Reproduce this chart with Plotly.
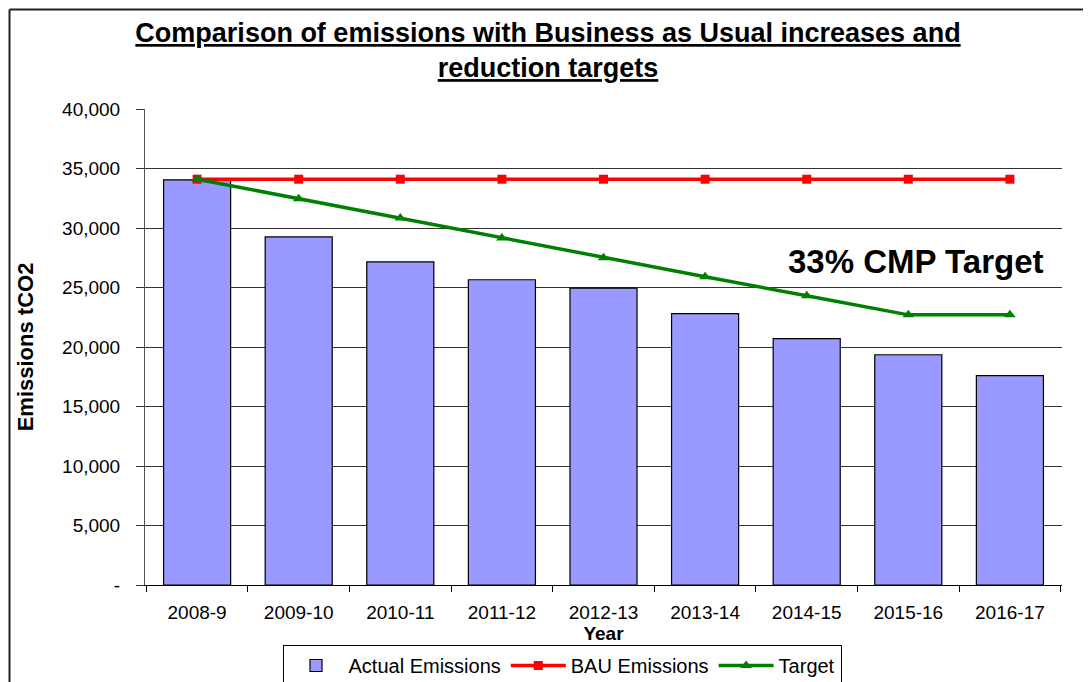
import plotly.graph_objects as go

years = ["2008-9", "2009-10", "2010-11", "2011-12", "2012-13", "2013-14", "2014-15", "2015-16", "2016-17"]
actual = [34050, 29250, 27150, 25650, 24950, 22800, 20700, 19350, 17600]
bau = [34100, 34100, 34100, 34100, 34100, 34100, 34100, 34100, 34100]
target = [34100, 32450, 30850, 29150, 27500, 25900, 24300, 22700, 22700]
ytickvals = [0, 5000, 10000, 15000, 20000, 25000, 30000, 35000, 40000]
yticktext = ["-", "5,000", "10,000", "15,000", "20,000", "25,000", "30,000", "35,000", "40,000"]

FONT = "Liberation Sans, Arial, sans-serif"

fig = go.Figure()
fig.add_trace(go.Bar(x=years, y=actual, name="Actual Emissions",
                     marker=dict(color="#9999FF", line=dict(color="#000000", width=1.2))))
fig.add_trace(go.Scatter(x=years, y=bau, name="BAU Emissions", mode="lines+markers",
                         line=dict(color="#FF0000", width=3.5),
                         marker=dict(symbol="square", size=9, color="#FF0000")))
fig.add_trace(go.Scatter(x=years, y=target, name="Target", mode="lines+markers",
                         line=dict(color="#008000", width=3.5),
                         marker=dict(symbol="triangle-up", size=10, color="#008000")))

# page body has an 8px margin: figure origin sits at screen (8, 8)
OFF = 8
W, H = 1091 - OFF, 682 - OFF
L, T = 145 - OFF, 109 - OFF
R = W - (1062 - OFF)
B = H - (585 - OFF)
pw, ph = W - L - R, H - T - B

def px(xs):
    return (xs - OFF - L) / pw

def py(ys):
    return (H - B - (ys - OFF)) / ph

fig.update_layout(
    width=W, height=H,
    margin=dict(l=L, r=R, t=T, b=B, autoexpand=False),
    paper_bgcolor="white", plot_bgcolor="white",
    font=dict(family=FONT, size=19, color="#000000"),
    bargap=0.34,
    showlegend=True,
    legend=dict(orientation="h", x=px(562), xanchor="center", y=py(645), yanchor="top",
                bgcolor="white", bordercolor="#000000", borderwidth=1,
                font=dict(size=20, family=FONT), itemwidth=55, tracegroupgap=0),
    title=dict(text="<b><u>Comparison of emissions with Business as Usual increases and</u></b><br><b><u>reduction targets</u></b>",
               x=px(548), xanchor="center", xref="paper", y=1 - 34 / H, yanchor="top",
               font=dict(size=27, family=FONT, color="#000000")),
    xaxis=dict(type="category", showline=True, linecolor="#000000", linewidth=1, ticks="outside",
               tickson="boundaries", ticklen=6, tickcolor="#000000", automargin=False,
               tickfont=dict(size=19, family=FONT), ticklabelstandoff=10,
               title=dict(text="<b>Year</b>", standoff=4, font=dict(size=19, family=FONT))),
    yaxis=dict(range=[0, 40000], tickvals=ytickvals, ticktext=yticktext, automargin=False,
               showline=True, linecolor="#555555", linewidth=1, ticks="outside",
               ticklen=8, tickcolor="#333333", showgrid=True, gridcolor="#333333",
               gridwidth=1, zeroline=False, tickfont=dict(size=19, family=FONT),
               ticklabelstandoff=12,
               title=dict(text="<b>Emissions tCO2</b>", standoff=22,
                          font=dict(size=22, family=FONT))),
    annotations=[dict(text="<b>33% CMP Target</b>", x=px(916), xref="paper", y=py(262),
                      yref="paper", showarrow=False, xanchor="center", yanchor="middle",
                      font=dict(size=33, family=FONT, color="#000000"))],
    shapes=[
        dict(type="line", xref="paper", yref="paper", x0=px(9.5), x1=px(1100),
             y0=py(9.5), y1=py(9.5), line=dict(color="#222222", width=2)),
        dict(type="line", xref="paper", yref="paper", x0=px(9.5), x1=px(9.5),
             y0=py(9.5), y1=py(700), line=dict(color="#222222", width=2)),
    ],
)

fig.write_html("out.html")
